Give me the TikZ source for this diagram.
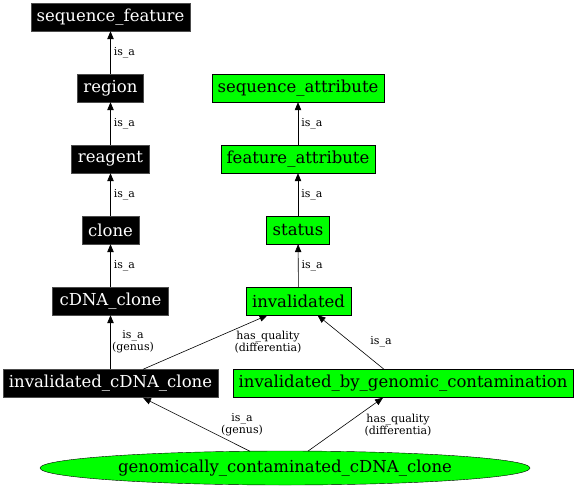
\documentclass[tikz,border=0pt]{standalone}
\usepackage{fontspec}
\setmainfont{DejaVu Serif}
\usetikzlibrary{shapes.geometric,arrows.meta}
\tikzset{
  base/.style={rectangle, inner sep=0pt, minimum height=28pt, font=\fontsize{16.5}{19}\selectfont},
  blk/.style={base, fill=black, draw=black!70, text=white},
  grn/.style={base, fill=green, draw=black},
  ell/.style={ellipse, inner sep=0pt, fill=green, draw=black, minimum width=490pt, minimum height=34pt, font=\fontsize{16.5}{19}\selectfont},
  rel/.style={draw=black, line width=0.6pt, -{Triangle[length=8pt,width=6.5pt]}},
  lbl/.style={font=\fontsize{11}{11.7}\selectfont, align=center, inner sep=0pt},
}
\begin{document}
\begin{tikzpicture}[x=1pt,y=-1pt]
\useasboundingbox (0,0) rectangle (576,490);
% left column
\node[blk, minimum width=159pt] (sf) at (110.5,17) {sequence\_feature};
\node[blk, minimum width=66pt] (rg) at (110.5,88) {region};
\node[blk, minimum width=78pt] (re) at (110.5,159) {reagent};
\node[blk, minimum width=57pt] (cl) at (110.5,230) {clone};
\node[blk, minimum width=116pt] (cc) at (110.5,301) {cDNA\_clone};
\node[blk, minimum width=215pt] (icc) at (110.5,383.5) {invalidated\_cDNA\_clone};
% right column
\node[grn, minimum width=172pt] (sa) at (298,88) {sequence\_attribute};
\node[grn, minimum width=154pt] (fa) at (298,159) {feature\_attribute};
\node[grn, minimum width=63pt] (st) at (298,230) {status};
\node[grn, minimum width=105pt] (inv) at (298.5,301) {invalidated};
\node[grn, minimum width=340pt] (ibg) at (403,383.5) {invalidated\_by\_genomic\_contamination};
\node[ell] (gcc) at (285,468) {genomically\_contaminated\_cDNA\_clone};
% vertical edges
\draw[rel] (rg) -- node[lbl, anchor=west, xshift=3pt] {is\_a} (sf);
\draw[rel] (re) -- node[lbl, anchor=west, xshift=3pt] {is\_a} (rg);
\draw[rel] (cl) -- node[lbl, anchor=west, xshift=3pt] {is\_a} (re);
\draw[rel] (cc) -- node[lbl, anchor=west, xshift=3pt] {is\_a} (cl);
\draw[rel] (icc) -- (cc);
\node[lbl] (l1) at (133,342) {is\_a\\(genus)};
\draw[rel] (fa) -- node[lbl, anchor=west, xshift=3pt] {is\_a} (sa);
\draw[rel] (st) -- node[lbl, anchor=west, xshift=3pt] {is\_a} (fa);
\draw[rel] (inv) -- node[lbl, anchor=west, xshift=3pt] {is\_a} (st);
% diagonal edges
\draw[rel] ([xshift=32.5pt]icc.north) -- ([xshift=-31pt]inv.south);
\node[lbl] (l2) at (268,342) {has\_quality\\(differentia)};
\draw[rel] ([xshift=-19pt]ibg.north) -- ([xshift=19pt]inv.south);
\node[lbl] (l3) at (381,342) {is\_a};
\draw[rel] ([xshift=-35pt,yshift=-0.5pt]gcc.north) -- ([xshift=32.5pt]icc.south);
\node[lbl] (l4) at (242,425) {is\_a\\(genus)};
\draw[rel] ([xshift=23pt,yshift=-0.3pt]gcc.north) -- ([xshift=-20pt]ibg.south);
\node[lbl] (l5) at (398,425) {has\_quality\\(differentia)};
\end{tikzpicture}
\end{document}
